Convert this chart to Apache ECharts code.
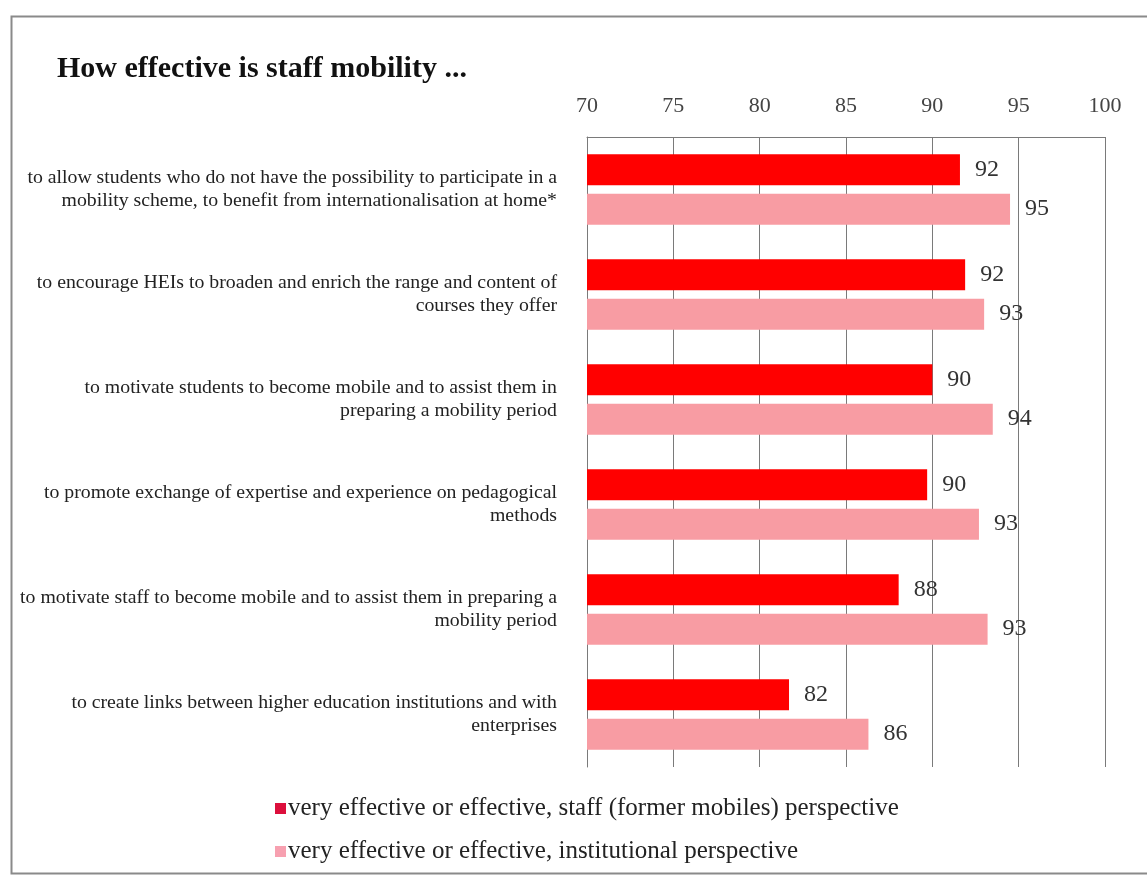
<!DOCTYPE html>
<html>
<head>
<meta charset="utf-8">
<script src="https://cdn.jsdelivr.net/npm/echarts@6/dist/echarts.min.js"></script>
<style>
html,body{margin:0;padding:0;background:#fff;}
#chart{width:1147px;height:875px;}
</style>
</head>
<body>
<div id="chart"></div>
<script>
const categories = [
  "to allow students who do not have the possibility to participate in a\nmobility scheme, to benefit from internationalisation at home*",
  "to encourage HEIs to broaden and enrich the range and content of\ncourses they offer",
  "to motivate students to become mobile and to assist them in\npreparing a mobility period",
  "to promote exchange of expertise and experience on pedagogical\nmethods",
  "to motivate staff to become mobile and to assist them in preparing a\nmobility period",
  "to create links between higher education institutions and with\nenterprises"
];
const staffValues = [91.6, 91.9, 90.0, 89.7, 88.05, 81.7];
const institutionalValues = [94.5, 93.0, 93.5, 92.7, 93.2, 86.3];
const seriesNames = [
  "very effective or effective, staff (former mobiles) perspective",
  "very effective or effective, institutional perspective"
];
const axisMin = 70, axisMax = 100, axisStep = 5;
const titleText = "How effective is staff mobility ...";

const serif = "'Liberation Serif', 'DejaVu Serif', serif";
const chart = echarts.init(document.getElementById('chart'), null, {renderer: 'canvas'});
const labelCfg = {
  show: true, position: 'right', distance: 15,
  color: '#333', fontFamily: serif, fontSize: 24,
  formatter: p => Math.round(p.value)
};
chart.setOption({
  animation: false,
  backgroundColor: '#fff',
  title: {
    text: titleText, left: 52, top: 49,
    textStyle: {fontFamily: serif, fontWeight: 'bold', fontSize: 30, color: '#111'}
  },
  graphic: [{
    type: 'rect', left: 9, top: 14, shape: {width: 1160, height: 857},
    style: {fill: 'none', stroke: '#8a8a8a', lineWidth: 2}, silent: true
  }],
  legend: {
    orient: 'vertical', left: 270, top: 791, itemGap: 18,
    itemWidth: 11, itemHeight: 11, icon: 'rect',
    textStyle: {fontFamily: serif, fontSize: 25, color: '#222', padding: [0,0,0,-3]},
    data: [
      {name: seriesNames[0], itemStyle: {color: '#dc0f3c'}},
      {name: seriesNames[1], itemStyle: {color: '#f7a0b0'}}
    ]
  },
  grid: {left: 587, right: 42, top: 137, bottom: 108, containLabel: false},
  xAxis: {
    type: 'value', position: 'top', min: axisMin, max: axisMax, interval: axisStep,
    axisLine: {show: true, lineStyle: {color: '#7a7a7a', width: 1}},
    axisTick: {show: false},
    axisLabel: {margin: 20, fontFamily: serif, fontSize: 22, color: '#444'},
    splitLine: {show: true, lineStyle: {color: '#7a7a7a', width: 1}}
  },
  yAxis: {
    type: 'category', inverse: true, data: categories,
    axisLine: {show: true, lineStyle: {color: '#7a7a7a', width: 1}},
    axisTick: {show: false},
    axisLabel: {margin: 30, fontFamily: serif, fontSize: 19.8, color: '#222', lineHeight: 23, align: 'right'}
  },
  series: [
    {name: seriesNames[0], type: 'bar', data: staffValues, barWidth: 31, barGap: '27%',
     itemStyle: {color: '#ff0000'}, label: labelCfg},
    {name: seriesNames[1], type: 'bar', data: institutionalValues, barWidth: 31, barGap: '27%',
     itemStyle: {color: '#f89ca3'}, label: labelCfg}
  ]
});
</script>
</body>
</html>
